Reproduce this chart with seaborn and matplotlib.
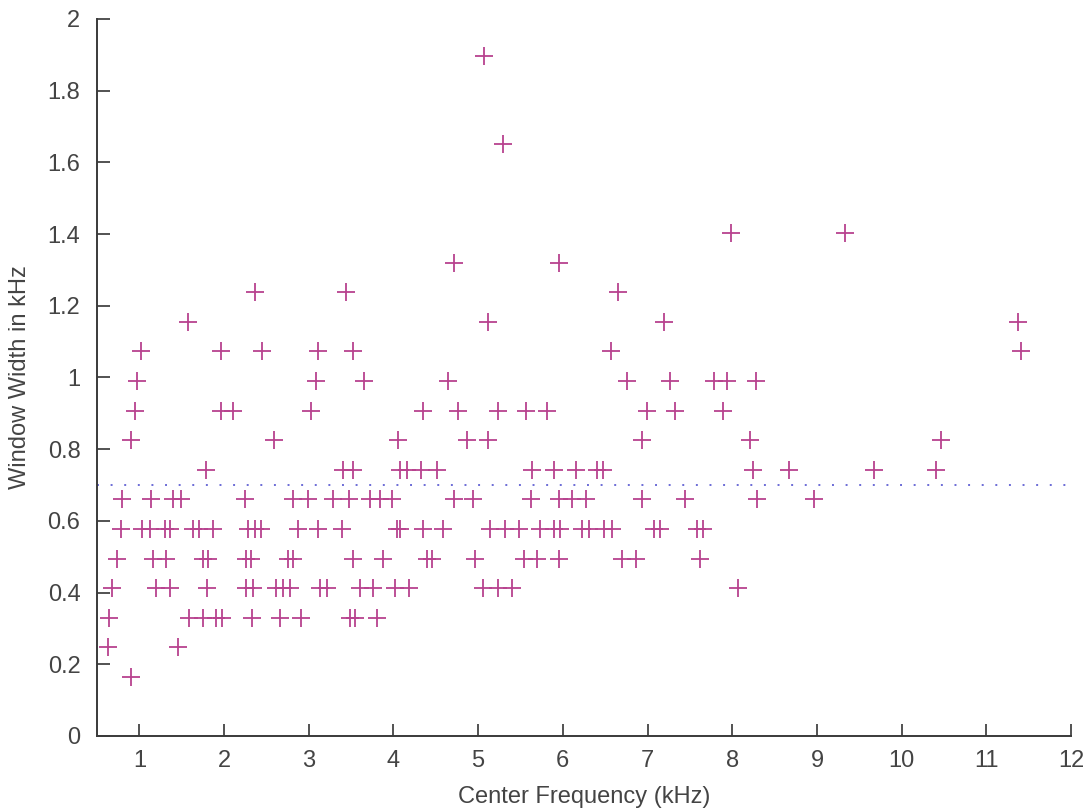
import numpy as np
import pandas as pd
import matplotlib
matplotlib.use("Agg")
import matplotlib.pyplot as plt
import seaborn as sns

# Center frequencies (kHz) grouped by window-width level (kHz)
w190 = [5.07]
w165 = [5.29]
w140 = [7.99, 9.33]
w132 = [4.71, 5.95]
w124 = [2.37, 3.44, 6.65]
w116 = [1.57, 5.12, 7.20, 11.37]
w107 = [1.02, 1.96, 2.45, 3.11, 3.52, 6.57, 11.41]
w099 = [0.97, 3.08, 3.65, 4.64, 6.76, 7.27, 7.78, 7.94, 8.28]
w091 = [0.95, 1.96, 2.10, 3.03, 4.35, 4.76, 5.24, 5.57, 5.81, 6.99, 7.32, 7.89]
w082 = [0.90, 2.59, 4.05, 4.87, 5.12, 6.94, 8.21, 10.46]
w074 = [1.79, 3.40, 3.52, 4.08, 4.16, 4.33, 4.51, 5.64, 5.89, 6.15, 6.40, 6.47,
        8.24, 8.67, 9.67, 10.41]
w066 = [0.80, 1.14, 1.40, 1.49, 2.25, 2.81, 2.99, 3.29, 3.47, 3.72, 3.84, 3.98,
        4.71, 4.94, 5.62, 5.95, 6.11, 6.27, 6.94, 7.44, 8.29, 8.96]
w058 = [0.78, 1.03, 1.13, 1.30, 1.36, 1.63, 1.70, 1.87, 2.28, 2.36, 2.44, 2.87,
        3.11, 3.39, 4.04, 4.08, 4.35, 4.59, 5.14, 5.32, 5.48, 5.73, 5.89, 5.97,
        6.23, 6.31, 6.48, 6.58, 7.08, 7.15, 7.58, 7.65]
w049 = [0.73, 1.16, 1.32, 1.75, 1.81, 2.26, 2.32, 2.75, 2.81, 3.52, 3.88, 4.39,
        4.45, 4.96, 5.54, 5.69, 5.95, 6.70, 6.86, 7.62]
w041 = [0.68, 1.20, 1.36, 1.80, 2.26, 2.34, 2.61, 2.70, 2.78, 3.13, 3.21, 3.60,
        3.76, 4.02, 4.18, 5.06, 5.24, 5.40, 8.07]
w033 = [0.64, 1.58, 1.75, 1.91, 1.98, 2.33, 2.66, 2.91, 3.49, 3.54, 3.81]
w025 = [0.63, 1.46]
w016 = [0.90]

levels = [1.8975, 1.65, 1.4025, 1.32, 1.2375, 1.155, 1.0725, 0.99, 0.9075,
          0.825, 0.7425, 0.66, 0.5775, 0.495, 0.4125, 0.33, 0.2475, 0.165]
groups = [w190, w165, w140, w132, w124, w116, w107, w099, w091, w082, w074,
          w066, w058, w049, w041, w033, w025, w016]

threshold = 0.7
xticks = list(range(1, 13))
yticks = [0, 0.2, 0.4, 0.6, 0.8, 1, 1.2, 1.4, 1.6, 1.8, 2]
ytick_labels = ["0", "0.2", "0.4", "0.6", "0.8", "1", "1.2", "1.4", "1.6", "1.8", "2"]

freq = []
width = []
for lv, g in zip(levels, groups):
    freq.extend(g)
    width.extend([lv] * len(g))
df = pd.DataFrame({"freq": freq, "width": width})

sns.set_style("white")
plt.rcParams['font.family'] = ['Liberation Sans Narrow', 'Liberation Sans', 'DejaVu Sans']

fig = plt.figure(figsize=(10.88, 8.11), dpi=100)
ax = fig.add_axes([0.0892, 0.0925, 0.8952, 0.8841])

sns.scatterplot(data=df, x="freq", y="width", marker="+", s=170,
                color="#b8428f", linewidth=1.3, ax=ax, zorder=3)

ax.plot([0.5, 12], [threshold, threshold], linestyle=(0, (1, 6)),
        color="#6b6bd6", linewidth=1.4, zorder=2)

ax.set_xlim(0.5, 12)
ax.set_ylim(0, 2)
ax.set_xticks(xticks)
ax.set_xticklabels([str(t) for t in xticks])
ax.set_yticks(yticks)
ax.set_yticklabels(ytick_labels)

text_color = "#444444"
ax.tick_params(axis="both", direction="in", length=9, width=1.3,
               colors=text_color, labelsize=17, pad=12,
               bottom=True, left=True, top=False, right=False)
ax.tick_params(axis="x", pad=10)
for side in ["top", "right"]:
    ax.spines[side].set_visible(False)
for side in ["left", "bottom"]:
    ax.spines[side].set_color("#3a3a3a")
    ax.spines[side].set_linewidth(1.4)

ax.set_xlabel("Center Frequency (kHz)", fontsize=17, color=text_color, labelpad=10)
ax.set_ylabel("Window Width in kHz", fontsize=17, color=text_color, labelpad=12)

fig.savefig("out.png", dpi=100)
